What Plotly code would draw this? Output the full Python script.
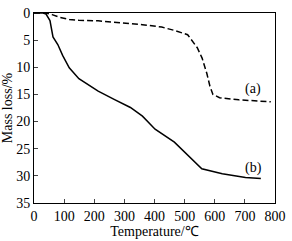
import plotly.graph_objects as go

# Curve (a): dashed
temp_a = [0, 30, 43, 60, 85, 117, 149, 213, 319, 360, 424, 466, 510, 527, 542, 558, 574, 584, 594, 616, 680, 786]
loss_a = [0, 0, 0.05, 0.3, 0.8, 1.2, 1.35, 1.45, 1.9, 2.15, 2.6, 3.2, 4.0, 5.2, 6.4, 8.3, 11.2, 13.5, 15.0, 15.6, 16.0, 16.35]

# Curve (b): solid
temp_b = [0, 30, 40, 53, 63, 79, 95, 117, 149, 181, 213, 266, 320, 360, 402, 466, 520, 557, 625, 702, 753]
loss_b = [0, 0, 0.2, 1.4, 4.4, 5.8, 7.8, 10.1, 12.1, 13.2, 14.4, 15.9, 17.4, 19.0, 21.4, 23.8, 26.6, 28.7, 29.6, 30.3, 30.5]

x_ticks = [0, 100, 200, 300, 400, 500, 600, 700, 800]
y_ticks = [0, 5, 10, 15, 20, 25, 30, 35]

font = dict(family="Liberation Serif, Times New Roman, serif", size=14, color="black")

fig = go.Figure()
fig.add_trace(go.Scatter(x=temp_a, y=loss_a, mode="lines",
                         line=dict(color="black", width=1.5, dash="6px,3px"),
                         showlegend=False))
fig.add_trace(go.Scatter(x=temp_b, y=loss_b, mode="lines",
                         line=dict(color="black", width=1.5),
                         showlegend=False))

fig.add_annotation(x=728, y=14.0, text="(a)", showarrow=False, font=font, xanchor="center", yanchor="middle")
fig.add_annotation(x=728, y=28.6, text="(b)", showarrow=False, font=font, xanchor="center", yanchor="middle")

fig.update_layout(
    width=292, height=241,
    margin=dict(l=34, r=9, t=6, b=33),
    paper_bgcolor="white", plot_bgcolor="white",
    font=font,
    xaxis=dict(range=[0, 800], tickvals=x_ticks, ticks="inside", ticklen=4,
               showline=True, linecolor="black", linewidth=1, mirror=True,
               showgrid=False, zeroline=False, ticklabeloverflow="allow",
               title=dict(text="Temperature/℃", font=font, standoff=1)),
    yaxis=dict(range=[35, 0], tickvals=y_ticks, ticks="inside", ticklen=4,
               showline=True, linecolor="black", linewidth=1, mirror=True,
               showgrid=False, zeroline=False, ticklabeloverflow="allow",
               title=dict(text="Mass loss/%", font=font, standoff=0)),
)

fig.write_html("out.html")
